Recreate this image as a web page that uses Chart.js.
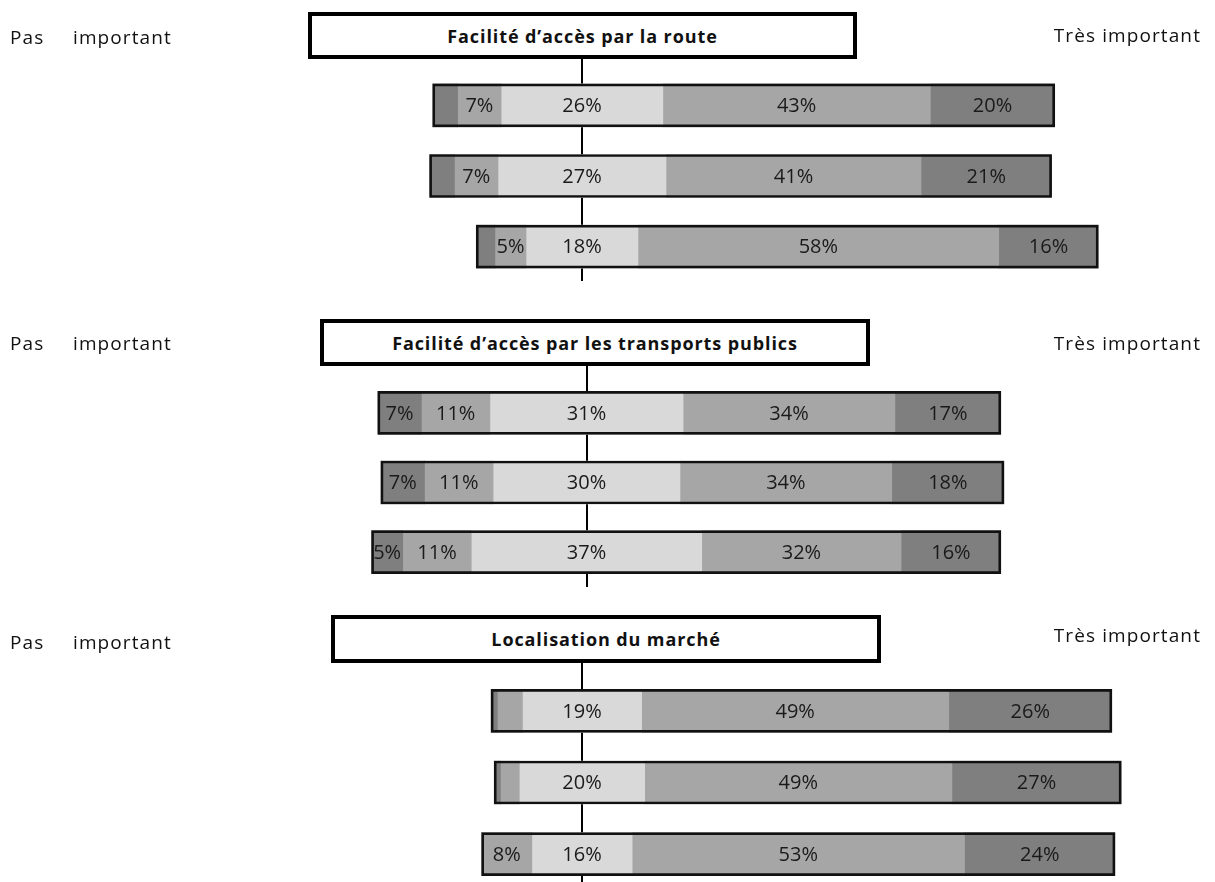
<!DOCTYPE html>
<html>
<head>
<meta charset="utf-8">
<script src="https://cdn.jsdelivr.net/npm/chart.js@4.4.1/dist/chart.umd.min.js"></script>
<style>
  html, body { margin: 0; padding: 0; background: #fff; overflow: hidden; }
  #page { position: relative; width: 1215px; height: 882px; font-family: "Open Sans", sans-serif; color: #111; }
  .panel { position: absolute; left: 0; width: 1215px; height: 300px; }
  .titlebox { position: absolute; box-sizing: border-box; border: 4px solid #000; background: #fff;
    font-weight: bold; font-size: 18px; letter-spacing: 0.9px; text-align: center; display: flex; align-items: center; justify-content: center; z-index: 2; }
  .side { position: absolute; font-size: 19px; letter-spacing: 1.1px; transform: translateY(-50%); white-space: nowrap; z-index: 2; }
</style>
</head>
<body>
<div id="page"></div>
<script>
// Rows of each block (three respondent groups per question)
const rowLabels = ['1', '2', '3'];

// Answer categories, from "pas important" to "très important"
const categories = ['Pas du tout important', 'Peu important', 'Neutre', 'Important', 'Très important'];
const categoryColors = ['#7f7f7f', '#a6a6a6', '#d9d9d9', '#a6a6a6', '#7f7f7f'];

const titles = ['Facilité d’accès par la route', 'Facilité d’accès par les transports publics', 'Localisation du marché'];

// Percentages per row, one column per category
const routeValues = [
    [4, 7, 26, 43, 20],
    [4, 7, 27, 41, 21],
    [3, 5, 18, 58, 16]
];
const transportValues = [
    [7, 11, 31, 34, 17],
    [7, 11, 30, 34, 18],
    [5, 11, 37, 32, 16]
];
const marcheValues = [
    [1, 4, 19, 49, 26],
    [1, 3, 20, 49, 27],
    [0, 8, 16, 53, 24]
];

// Page layout for each block
const panels = [
    { values: routeValues, top: 0, padTop: 70, padBottom: 18, center: 582, pxPerUnit: 6.22,
      lineTop: 59, lineBottom: 281, box: [308, 12, 549, 47], leftY: 37, rightY: 35 },
    { values: transportValues, top: 300, padTop: 78, padBottom: 13, center: 586.5, pxPerUnit: 6.23,
      lineTop: 65, lineBottom: 287, box: [320, 319, 550, 47], leftY: 343, rightY: 343 },
    { values: marcheValues, top: 600, padTop: 75, padBottom: 10, center: 582, pxPerUnit: 6.27,
      lineTop: 62, lineBottom: 300, box: [331, 615, 550, 48], leftY: 642, rightY: 635 }
];

// Vertical line through the middle of the neutral category
const centerLinePlugin = {
    id: 'centerLine',
    beforeDatasetsDraw(chart, args, opts) {
        const ctx = chart.ctx;
        const x = Math.round(chart.scales.x.getPixelForValue(0));
        ctx.save();
        ctx.strokeStyle = '#000';
        ctx.lineWidth = 2;
        ctx.beginPath();
        ctx.moveTo(x, opts.top);
        ctx.lineTo(x, opts.bottom);
        ctx.stroke();
        ctx.restore();
    }
};

// Percent labels in the middle of each segment
const segmentLabelPlugin = {
    id: 'segmentLabels',
    afterDatasetsDraw(chart) {
        const ctx = chart.ctx;
        ctx.save();
        ctx.font = '20px "Open Sans"';
        ctx.fillStyle = '#1a1a1a';
        ctx.textAlign = 'center';
        ctx.textBaseline = 'middle';
        chart.data.datasets.forEach((ds, i) => {
            if (ds.isOutline) return;
            const meta = chart.getDatasetMeta(i);
            meta.data.forEach((bar, j) => {
                const v = ds.percent[j];
                if (v < 5) return;
                const p = bar.getProps(['x', 'y', 'base'], true);
                ctx.fillText(v + '%', (p.x + p.base) / 2, p.y + 1);
            });
        });
        ctx.restore();
    }
};

function buildPanel(panel, index) {
    const page = document.getElementById('page');

    const wrap = document.createElement('div');
    wrap.className = 'panel';
    wrap.style.top = panel.top + 'px';
    const canvas = document.createElement('canvas');
    wrap.appendChild(canvas);
    page.appendChild(wrap);

    // Title box and side labels
    const box = document.createElement('div');
    box.className = 'titlebox';
    box.style.left = panel.box[0] + 'px';
    box.style.top = panel.box[1] + 'px';
    box.style.width = panel.box[2] + 'px';
    box.style.height = panel.box[3] + 'px';
    box.textContent = titles[index];
    page.appendChild(box);

    const pas = document.createElement('div');
    pas.className = 'side';
    pas.style.left = '10px';
    pas.style.top = panel.leftY + 'px';
    pas.textContent = 'Pas';
    page.appendChild(pas);

    const imp = document.createElement('div');
    imp.className = 'side';
    imp.style.left = '73px';
    imp.style.top = panel.leftY + 'px';
    imp.textContent = 'important';
    page.appendChild(imp);

    const tres = document.createElement('div');
    tres.className = 'side';
    tres.style.right = '14px';
    tres.style.top = panel.rightY + 'px';
    tres.textContent = 'Très important';
    page.appendChild(tres);

    // Floating segments, shifted so the neutral category is centred on 0
    const starts = panel.values.map(row => -(row[0] + row[1] + row[2] / 2));
    const datasets = categories.map((cat, c) => {
        return {
            label: cat,
            percent: panel.values.map(row => row[c]),
            data: panel.values.map((row, j) => {
                let a = starts[j];
                for (let k = 0; k < c; k++) a += row[k];
                return [a, a + row[c]];
            }),
            backgroundColor: categoryColors[c],
            borderWidth: 0,
            grouped: false,
            barThickness: 43
        };
    });

    // Black outline around each whole bar
    datasets.push({
        label: 'outline',
        isOutline: true,
        data: panel.values.map((row, j) => [starts[j], starts[j] + row.reduce((s, v) => s + v, 0)]),
        backgroundColor: 'rgba(0,0,0,0)',
        borderColor: '#111',
        borderWidth: 2,
        borderSkipped: false,
        grouped: false,
        barThickness: 43,
        order: -1
    });

    const width = 1215;
    new Chart(canvas, {
        type: 'bar',
        data: { labels: rowLabels, datasets: datasets },
        options: {
            indexAxis: 'y',
            responsive: true,
            maintainAspectRatio: false,
            animation: false,
            layout: { padding: { top: panel.padTop, bottom: panel.padBottom, left: 0, right: 0 } },
            scales: {
                x: {
                    display: false,
                    min: -panel.center / panel.pxPerUnit,
                    max: (width - panel.center) / panel.pxPerUnit
                },
                y: { display: false }
            },
            plugins: {
                legend: { display: false },
                tooltip: { enabled: false },
                centerLine: { top: panel.lineTop, bottom: panel.lineBottom }
            }
        },
        plugins: [centerLinePlugin, segmentLabelPlugin]
    });
}

panels.forEach(buildPanel);
</script>
</body>
</html>
